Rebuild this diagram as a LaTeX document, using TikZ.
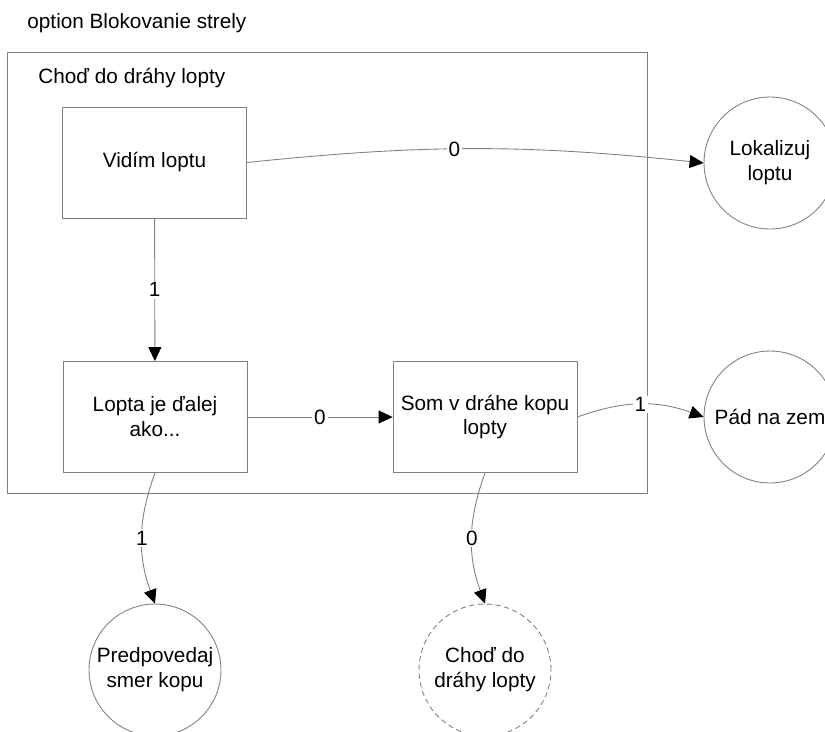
\documentclass[tikz,border=0pt]{standalone}
\usepackage{fontspec}
\setmainfont{Liberation Sans}
\usetikzlibrary{arrows.meta}

\def\boxw{3.68cm}
\def\boxh{2.22cm}
\def\goalsize{2.64cm}

\begin{document}
\begin{tikzpicture}[x=0.02cm,y=0.02cm,draw=black!50,line width=0.5pt,
  >={Triangle[length=2.8mm,width=2.6mm,color=black]},
  font=\fontsize{11.8}{14.2}\selectfont]
  \tikzstyle{state}=[rectangle,draw,minimum width=\boxw,minimum height=\boxh,
    align=center,inner sep=0pt]
  \tikzstyle{goal}=[circle,draw,minimum size=\goalsize,align=center,inner sep=0pt]
  \tikzstyle{frame}=[rectangle,draw,minimum width=12.8cm,minimum height=8.82cm]
  \tikzstyle{annot}=[anchor=west,inner sep=0pt]
  \tikzstyle{flow}=[->]
  \tikzstyle{lbl}=[fill=white,inner sep=1pt]

  \useasboundingbox (0,0) rectangle (825,-731);

  % Option title and the state frame
  \node[annot] (title) at (27,-23) {option Blokovanie strely};
  \node[frame] (frame) at (327.5,-272.5) {};
  \node[annot] (framel) at (38,-78) {Choď do dráhy lopty};

  % Decisions inside the state
  \node[state] (vidim) at (154.5,-162.5) {Vidím loptu};
  \node[state] (lopta) at (155,-417) {Lopta je ďalej\\ako...};
  \node[state] (som) at (485,-417) {Som v dráhe kopu\\lopty};

  % Follow-up states
  \node[goal] (lokal) at (770,-163) {Lokalizuj\\loptu};
  \node[goal] (pad) at (770,-417) {Pád na zem};
  \node[goal] (predp) at (155,-670) {Predpovedaj\\smer kopu};
  \node[goal,dashed,dash pattern=on 3pt off 2pt] (chod) at (485,-670) {Choď do\\dráhy lopty};

  % Connect nodes
  \path (vidim) edge[flow] node[lbl] {1} (lopta);
  \path (lopta) edge[flow] node[lbl] {0} (som);
  \path (vidim.east) edge[flow,bend left=6] node[lbl,pos=0.45] {0} (lokal.west);
  \path (som.east) edge[flow,bend left=20] node[lbl] {1} (pad.west);
  \path (lopta.south) edge[flow,bend right=20] node[lbl] {1} (predp.north);
  \path (som.south) edge[flow,bend right=20] node[lbl] {0} (chod.north);
\end{tikzpicture}
\end{document}
